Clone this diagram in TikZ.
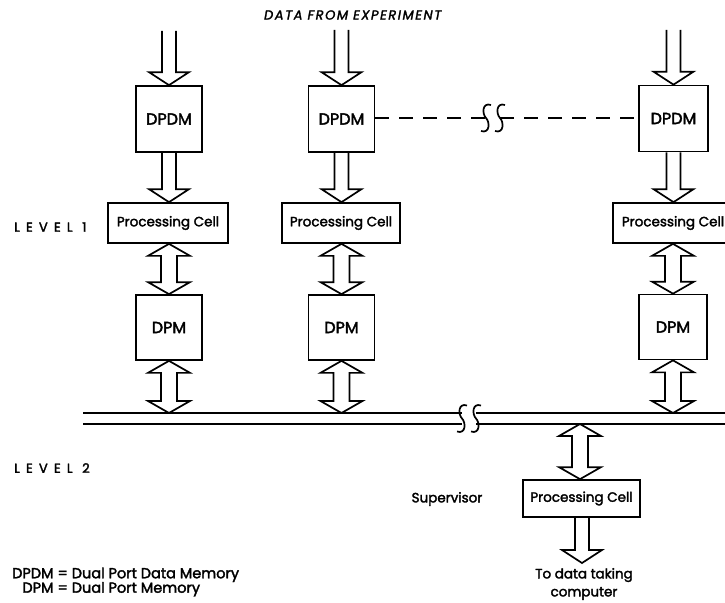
\documentclass[tikz,border=0pt]{standalone}
\usepackage{fontspec}
\setmainfont{Poppins}[FakeBold=2.2]
\newfontfamily\slantfont{Poppins}[FakeSlant=0.18, FakeBold=2.2]
\usetikzlibrary{calc}

\tikzset{
  memblock/.style={draw, line width=1.7pt, minimum width=66pt, minimum height=66pt,
    inner sep=0pt, font=\fontsize{16}{18}\selectfont},
  cellbox/.style={draw, line width=1.7pt, minimum width=120pt, minimum height=40pt,
    inner sep=0pt, font=\fontsize{13.5}{15}\selectfont},
  blk/.style={draw, line width=1.7pt, line join=miter, fill=white},
  wire/.style={line width=1.7pt},
  dashwire/.style={line width=1.7pt, dash pattern=on 14pt off 10pt},
  lbl/.style={inner sep=0pt, font=\fontsize{13.5}{15}\selectfont},
  spaced/.style={font=\fontsize{13}{15}\selectfont\addfontfeature{LetterSpace=48}},
  pics/brk/.style={code={
    \draw[wire] (5,-13) .. controls (-4,-16) and (-4,-4) .. (0,0)
                        .. controls (4,4) and (4,16) .. (-5,13);}},
}

% one-way block arrow: open shaft from #1 down to the tip #2
\newcommand{\onewayarrow}[2]{%
  \draw[blk, fill=none] let \p1=(#1), \p2=(#2) in
    (\x2-7pt,\y1) -- (\x2-7pt,\y2+13pt) -- (\x2-20pt,\y2+13pt) -- (\x2,\y2)
    -- (\x2+20pt,\y2+13pt) -- (\x2+7pt,\y2+13pt) -- (\x2+7pt,\y1);}

% two-way block arrow between the tips #1 (upper) and #2 (lower)
\newcommand{\twowayarrow}[2]{%
  \draw[blk] let \p1=(#1), \p2=(#2) in
    (\x1,\y1) -- (\x1+21pt,\y1-12pt) -- (\x1+8pt,\y1-12pt) -- (\x1+8pt,\y2+12pt)
    -- (\x1+21pt,\y2+12pt) -- (\x1,\y2) -- (\x1-21pt,\y2+12pt) -- (\x1-8pt,\y2+12pt)
    -- (\x1-8pt,\y1-12pt) -- (\x1-21pt,\y1-12pt) -- cycle;}

\begin{document}
\begin{tikzpicture}[x=1pt, y=-1pt]
\useasboundingbox (0,0) rectangle (725,602);
\clip (0,0) rectangle (725,602);

% heading
\node[lbl, font=\fontsize{13}{15}\slantfont\addfontfeature{LetterSpace=12}] (title) at (352,15) {DATA FROM EXPERIMENT};

% dual port data memories
\node[memblock] (dpdm1) at (169,119) {DPDM};
\node[memblock] (dpdm2) at (341.5,119) {DPDM};
\node[memblock, minimum width=69pt] (dpdm3) at (673.5,118.5) {DPDM};

% level 1 processing cells
\node[cellbox] (pc1) at (168,223) {Processing Cell};
\node[cellbox, minimum width=118pt] (pc2) at (341,223) {Processing Cell};
\node[cellbox] (pc3) at (673,223) {Processing Cell};

% dual port memories
\node[memblock, minimum height=65pt] (dpm1) at (169,327.5) {DPM};
\node[memblock, minimum height=65pt] (dpm2) at (341.5,327.5) {DPM};
\node[memblock, minimum height=65pt, minimum width=68pt] (dpm3) at (673,327) {DPM};

% supervisor cell
\node[cellbox, minimum width=117pt, minimum height=37pt] (sup) at (581.5,498.5) {Processing Cell};

% data inputs
\coordinate (in1) at (170,31);
\coordinate (in2) at (341,30);
\coordinate (in3) at (673,30);
\onewayarrow{in1}{dpdm1.north}
\onewayarrow{in2}{dpdm2.north}
\onewayarrow{in3}{dpdm3.north}

% memory to cell
\onewayarrow{dpdm1.south}{pc1.north -| dpdm1.south}
\onewayarrow{dpdm2.south}{pc2.north -| dpdm2.south}
\onewayarrow{dpdm3.south}{pc3.north -| dpdm3.south}

% cell to memory
\twowayarrow{pc1.south -| dpm1.north}{dpm1.north}
\twowayarrow{pc2.south -| dpm2.north}{dpm2.north}
\twowayarrow{pc3.south -| dpm3.north}{dpm3.north}

% bus
\coordinate (busT) at (83,413);
\coordinate (busB) at (83,424);
\coordinate (brkA) at (462,418.5);
\coordinate (brkB) at (476,418.5);
\draw[wire] (busT) -- (busT -| brkA);
\draw[wire] (busB) -- (busB -| brkA);
\draw[wire] (busT -| brkB) -- (725,413);
\draw[wire] (busB -| brkB) -- (725,424);
\pic at (brkA) {brk};
\pic at (brkB) {brk};

% memory to bus
\twowayarrow{dpm1.south}{dpm1.south |- busT}
\twowayarrow{dpm2.south}{dpm2.south |- busT}
\twowayarrow{dpm3.south}{dpm3.south |- busT}

% bus to supervisor
\coordinate (supin) at (580,424);
\twowayarrow{supin}{supin |- sup.north}

% output to the data taking computer
\coordinate (outtip) at (582,563);
\onewayarrow{sup.south -| outtip}{outtip}

% link between data memories
\coordinate (lnkA) at (486,118);
\coordinate (lnkB) at (500,118);
\draw[dashwire] (dpdm2.east |- lnkA) -- (lnkA);
\draw[dashwire] (lnkB) -- (dpdm3.west |- lnkB);
\pic at (lnkA) {brk};
\pic at (lnkB) {brk};

% labels
\node[lbl, spaced, anchor=west] (lv1) at (14,227) {LEVEL 1};
\node[lbl, spaced, anchor=west] (lv2) at (14,468) {LEVEL 2};
\node[lbl] (suplbl) at (447,499) {Supervisor};
\node[lbl, align=center, font=\fontsize{13.5}{18}\selectfont] (dest) at (584,584) {To data taking\\computer};

% legend
\node[lbl, anchor=west, font=\fontsize{14.5}{12.5}\selectfont] (legend) at (12,582)
  {\begin{tabular}{@{}r@{ = }l@{}}DPDM & Dual Port Data Memory\\ DPM & Dual Port Memory\end{tabular}};
\end{tikzpicture}
\end{document}
